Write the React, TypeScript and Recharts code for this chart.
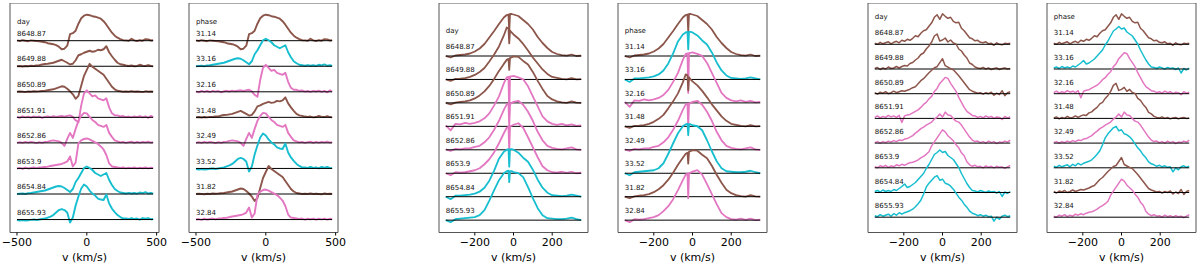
import React from "react";
import { LineChart, Line, XAxis, YAxis, ReferenceArea, ReferenceDot } from "recharts";

const FONT = "DejaVu Sans";
const BROWN = "#8c564b";
const PINK = "#e377c2";
const CYAN = "#17becf";

// observation epochs and their phases (same order)
const days = ["8648.87", "8649.88", "8650.89", "8651.91", "8652.86", "8653.9", "8654.84", "8655.93"];
const phases = ["31.14", "31.48", "31.82", "32.16", "32.49", "32.84", "33.16", "33.52"];
const dayColors = [BROWN, BROWN, BROWN, PINK, PINK, PINK, CYAN, CYAN];
// phase panels are sorted by fractional phase
const phaseOrder = [0, 6, 3, 1, 4, 7, 2, 5];
const dayOrder = [0, 1, 2, 3, 4, 5, 6, 7];

// ---- line 1 (panels 1-2) ----
const velA = [-500, -480, -460, -440, -420, -400, -380, -360, -340, -320, -300, -280, -260, -240, -220, -200, -180, -160, -140, -120, -100, -80, -60, -40, -20, 0, 20, 40, 60, 80, 100, 120, 140, 160, 180, 200, 220, 240, 260, 280, 300, 320, 340, 360, 380, 400, 420, 440, 460, 475];
const a1 = [0.3, -0.3, 0.5, 0, -0.5, 0.3, 0, -0.3, -0.5, -1, -1.5, -2.5, -3, -3.5, -4.5, -6, -8.5, -8, -5, 6.5, 7.5, 10, 17, 22.5, 25, 26, 25.5, 24.5, 24, 23, 22, 19.5, 16, 12, 8, 5, 3, 1.5, 0.5, 0.3, 0, 2, 0.3, -0.3, 0.5, 0, 1.5, 1.3, 0.2, 0.5];
const a2 = [0, 0.3, -0.2, 0.3, 0, 0.5, 0.3, 0.8, 1, 1.8, 2.3, 2.5, 3, 3.5, 4.5, 5.5, 6.5, 5, 3.5, 1.8, 2.5, 6, 11, 12, 13.5, 14.5, 15.5, 14.5, 15, 16.5, 16, 17, 20, 14, 10, 6.5, 3.5, 2, 1.5, 0.8, 0.3, 0.8, 0, 0.3, 1.5, 0.5, 0.3, 1.2, 0.3, 0];
const a3 = [0, 0.3, 0, -0.3, 0.3, 0, 0.5, 0.3, 0.5, 0.8, 1, 1.5, 2, 2.5, 3.5, 4.5, 5.5, 5, 3, 0.5, -2.5, -7, -4, 6, 16, 22, 28, 25, 23, 21, 19, 17, 13, 9, 5, 2.5, 1, 0.5, 0, 0.3, 0, 0.5, 0, 0.3, 0, -0.3, 0.5, 0, 0.3, 0];
const a4 = [0.5, -0.5, 1, 0, 0.8, -0.3, 1, 0.2, 0.8, -0.5, 0.5, 1, 0.3, 1.2, 0.5, 1, 1.5, 0.8, 1.5, 2, 0.5, -3, -5, 12, 24, 27, 24, 21, 22, 19, 18, 17, 19, 10, 4, 2, 2, 1, 1.3, 0.2, 0.8, 0, 1, 0.3, 1.2, 0, 1, -0.5, 1.5, 0];
const a5 = [0, 0.8, 0, 1, 0.3, 1, 0.5, -0.3, 0.8, 0, 1, 1.3, 2, 2.5, 2, 1.5, 0, -3, 4, 10, 5, 14, 22, 27, 30, 29.5, 26, 23, 21, 18, 17, 16, 18, 10, 6, 2.5, 1.5, 0.5, 1, 0, 0.8, 1.2, 0, 1, 0.3, 1, 0.5, 1.3, 0.3, 0.8];
const a6 = [0, 0.5, -0.3, 0.8, 0, 0.5, 1, 0.3, 1, 1.2, 1.5, 1.8, 2.5, 3, 3.5, 4, 4.5, 5.5, 7, 12, 2, 6, 25, 28, 29.5, 30, 29, 27.5, 26, 24.5, 22, 19, 13.5, 5, 2, 1.5, 1, 0.5, 1, 0, 0.8, 0.3, 1, 0, 0.8, 0.2, 1, 0, 0.8, 0.3];
const a7 = [0, 0.3, 0.5, 0, 0.8, 1, 1.5, 2, 2.5, 3, 3.5, 4.5, 5.5, 6.5, 7.5, 8, 7.5, 6, 4, 2, 5, 12, 16, 21, 26, 27.5, 26, 24, 21, 19.5, 18, 19.5, 21, 14, 9, 5, 3, 1.5, 1, 0.5, 1.2, 0.5, 1, 0.3, 1.5, 0.8, 1.8, 0.5, 1, 0.3];
const a8 = [-0.5, -1, -0.5, -1, -0.8, -0.3, 0, -0.5, 0, 0.5, 1, 2, 3, 4.5, 7, 9.5, 10.5, 9.5, 7, -3, 2, 14, 23, 31, 35, 33, 29, 26, 24, 21, 20, 19.5, 25, 16, 11, 7.5, 4.5, 2.5, 1, 1, 0.5, 1.5, 0.5, 1, 0, 1.5, 0.8, 1.5, 0.3, 0.5];

// ---- line 2 (panels 3-4) ----
const velB = [-350, -325, -300, -275, -250, -225, -200, -175, -150, -125, -100, -75, -50, -35, -26, -22, -18, -10, 0, 25, 50, 75, 100, 125, 150, 175, 200, 225, 250, 275, 300, 325, 350];
const b1 = [0, -1.5, 0.5, 1, 1.5, 2.5, 4.5, 7.5, 12, 18.5, 25, 32, 38.5, 41, 41.5, 24, 42, 42, 41.5, 40, 36, 32, 26.5, 19, 13, 8, 4, 2, 0.8, 0.3, 1.5, 0, 0.3];
const b2 = [0, -1.5, 0.5, 0.8, 1.3, 2.5, 4.5, 7.5, 11.5, 18, 25, 33, 44, 52, 51, 36, 49, 47, 45, 41, 35.5, 29, 22, 16, 10, 5.5, 2.5, 1.5, 0.5, 0, 1.3, 0, 0.3];
const b3 = [0, -1.5, 0.3, 1, 1.5, 2.5, 4.5, 7.5, 11.5, 17, 24, 32, 39, 43, 44, 33, 45, 45.5, 46.5, 46, 42, 38.5, 31, 22, 14, 7, 3.5, 1.5, 0.5, 0, 1.5, 0.3, 0];
const b4 = [1, -4, 2.5, 2, 3.5, 2.5, 3.5, 5, 8, 13, 21, 30, 43, 49, 49.5, 10, 50, 50, 50.5, 49, 47, 40, 30, 20, 10, 5, 2.5, 1.5, 2.5, 1, 2, 0.5, 1];
const b5 = [0.5, -1, 1, 0.5, 1.5, 1.5, 3, 4, 7.5, 12.5, 20, 29, 40, 45.5, 46, 22, 46.5, 46.5, 48, 49, 45, 38, 29, 18, 9.5, 4, 2, 1, 0.5, 1.5, 2.5, 0.5, 0];
const b6 = [0, -2, 1, 0.5, 1, 2, 3, 5, 9, 14, 21, 30, 40, 45.5, 46.5, 22, 47, 47.5, 48.5, 50, 45.5, 36, 26, 16, 7, 3, 1, 0.5, 1.5, 0.3, 1.5, 0, 0.5];
const b7 = [0, -2.5, 1, 1, 1.5, 2, 3, 5, 9, 16, 26, 38, 45, 47, 47.5, 30, 47.5, 47.5, 47, 44, 39, 35, 27, 17, 9, 4, 1.5, 1, 0.5, 1, 2, 1, 0];
const b8 = [0, -2, 1, 1.5, 2, 2.5, 3, 5, 10, 19.5, 30, 40, 47, 49, 49.5, 38, 49, 49, 48, 47, 43, 33, 22, 12, 5, 2, 1.5, 1, 1, 1.5, 2.5, 1, 0];

// ---- line 3 (panels 5-6) ----
const velC = [-350, -336, -322, -308, -294, -280, -266, -252, -238, -224, -210, -196, -182, -168, -154, -140, -126, -112, -98, -84, -70, -56, -42, -28, -14, 0, 14, 28, 42, 56, 70, 84, 98, 112, 126, 140, 154, 168, 182, 196, 210, 224, 238, 252, 266, 280, 294, 308, 322, 336, 350];
const c1 = [1, 0, 2, 0.5, 1.5, 2.5, 0.5, 2, 3, 1.5, 4, 3, 5, 4, 6, 8.5, 7.5, 11, 13.5, 14.5, 18, 21.5, 27, 29.5, 25, 30.5, 28, 26, 27, 23, 21.5, 22, 16, 13.5, 10, 6.5, 5.5, 3.5, 4, 2, 1.5, 2.5, 0.5, 1, -1, 1.5, 0, -0.5, 1, 0.5, 1];
const c2 = [0.5, 1.5, -0.5, 1, 0, 2, 0.5, 1, 2.5, 1, 2.5, 3.5, 3, 5.5, 6.5, 9, 11, 14.5, 16, 20, 23, 27, 33, 35, 28, 29, 31, 27, 29, 26, 25, 20, 18, 14, 11, 6, 4.5, 2, 1, 0.5, 1.5, 0, 1, -0.5, 0.5, 1, -0.5, 0.5, 1, 0, 0.5];
const c3 = [1, -0.5, 1.5, 0.5, 2, 0, 1, 2.5, 1, 2, 3, 2.5, 3.5, 4.5, 6, 7, 10, 13, 15, 18, 21, 23.5, 26, 27, 31, 35, 28, 26.5, 25, 24, 21, 18, 14.5, 11, 7.5, 4, 2.5, 1.5, 0.5, 1, -0.5, 1, 0, 1.5, -1.5, 0.5, -1, 3, -2, 1, 2];
const c4 = [1, 2.5, 0.5, 2, 1, 3, 1.5, 2.5, 1, 3, -4, 2.5, 3.5, 4, 5.5, 7, 8.5, 11, 14, 16, 19.5, 22, 27, 30, 35, 38, 41, 40, 35, 31, 27, 21, 16, 11, 7, 5, 3, 2.5, 1, 2, 0.5, 2.5, 1, 2, 0, 1.5, 1, -1, 2, 0.5, 1.5];
const c5 = [0.5, 1.5, 0, 1.5, 0.5, 2, 1, 2.5, 1.5, 3, 2.5, 4, 4.5, 6, 7.5, 10, 12, 14.5, 16, 18, 19.5, 21, 24, 26, 29, 26, 31, 28, 27.5, 24.5, 22, 21, 18, 14, 10, 6, 3, 1.5, 2, 0.5, 1.5, 0, 2, 0.5, 1.5, -0.5, 1, 0.5, 2, 1, 3];
const c6 = [1, 0, 2, 1, 2.5, 0.5, 2, 1, 3, 2, 3.5, 2.5, 4, 5, 5.5, 6.5, 8, 10, 11.5, 13.5, 16, 22, 26, 30, 34, 38, 36, 32, 29.5, 27, 23, 20, 15, 12, 6, 3, 1.5, 2.5, 1, 1.5, 0, 2, 0.5, 1.5, 0, 1.5, 0.5, 1, -0.5, 1, 2.5];
const c7 = [1, 2, 0.5, 2.5, 1, 2, 1, 3, 2, 4, 6, 8.5, 5, 6, 8, 10, 13, 16, 19, 24, 28, 33, 38, 40, 42.5, 40, 41, 37, 35, 33, 29, 25, 19, 14, 9, 5, 2, 1.5, 0.5, 2, 1, 0, 1.5, 0.5, 1, -0.5, 1, -4, 0.5, -1, 1];
const c8 = [1.5, 0.5, 2.5, 1, 2, 3, 1, 3.5, 2, 4.5, 3, 4.5, 5.5, 6.5, 8, 10.5, 13.5, 17, 23, 30, 34, 37, 40, 41.5, 37, 38, 34, 33, 31, 28, 24, 20, 17, 13, 10, 6, 4, 3, 1.5, 2.5, 1, 2, 0.5, 1, -4, 0, -2, 1, 2, 0.5, 1.5];

const PLOT_W = 149;
const PLOT_H = 229.5;
const AXIS_H = 33.5;
const M = 22;

type Group = {
  vel: number[];
  profiles: number[][];
  xDomain: [number, number];
  ticks: number[];
  step: number;
  bottom: number;
  labelGap: number;
  headGap: number;
  lw: number;
};

const groupA: Group = { vel: velA, profiles: [a1, a2, a3, a4, a5, a6, a7, a8], xDomain: [-550, 517], ticks: [-500, 0, 500], step: 25.55, bottom: 12.95, labelGap: 4.8, headGap: 16.3, lw: 1.9 };
const groupB: Group = { vel: velB, profiles: [b1, b2, b3, b4, b5, b6, b7, b8], xDomain: [-385, 385], ticks: [-200, 0, 200], step: 23.45, bottom: 12.35, labelGap: 7, headGap: 23.2, lw: 1.8 };
const groupC: Group = { vel: velC, profiles: [c1, c2, c3, c4, c5, c6, c7, c8], xDomain: [-385, 385], ticks: [-200, 0, 200], step: 24.7, bottom: 15.3, labelGap: 9, headGap: 25.5, lw: 1.5 };

const fmt = (t: number) => String(t).replace("-", "\u2212");

function Panel({ left, group, order, labels, head }: { left: number; group: Group; order: number[]; labels: string[]; head: string }) {
  const yMin = -group.bottom;
  const yMax = yMin + PLOT_H;
  const v0 = group.vel[0];
  const v1 = group.vel[group.vel.length - 1];
  const textShape = (txt: string) => (p: any) => (
    <text x={p.cx} y={p.cy} fontSize={7} fontFamily={FONT} fill="#111">{txt}</text>
  );
  const items: React.ReactNode[] = [];
  order.forEach((d, i) => {
    const base = (7 - i) * group.step;
    const pts = group.vel.map((v, k) => ({ v, y: base + group.profiles[d][k] }));
    items.push(
      <Line key={"p" + i} data={pts} dataKey="y" stroke={dayColors[d]} strokeWidth={group.lw} dot={false} isAnimationActive={false} strokeLinejoin="round" />
    );
    items.push(
      <Line key={"b" + i} data={[{ v: v0, y: base }, { v: v1, y: base }]} dataKey="y" stroke="#000" strokeWidth={1} dot={false} isAnimationActive={false} />
    );
    items.push(
      <ReferenceDot key={"l" + i} x={v0} y={base + group.labelGap} r={0} ifOverflow="visible" shape={textShape(labels[d])} />
    );
  });
  return (
    <div style={{ position: "absolute", left: left - M, top: 3 }}>
      <LineChart width={PLOT_W + 2 * M} height={PLOT_H + AXIS_H} margin={{ top: 0, right: M, bottom: 0, left: M }}>
        <XAxis
          dataKey="v"
          type="number"
          domain={group.xDomain}
          allowDataOverflow
          ticks={group.ticks}
          interval={0}
          tickFormatter={fmt}
          tick={{ fontSize: 11, fill: "#000", fontFamily: FONT }}
          tickSize={3}
          tickMargin={3}
          tickLine={{ stroke: "#000" }}
          axisLine={false}
          height={AXIS_H}
          label={{ value: "v (km/s)", position: "insideBottom", offset: 5, fontSize: 11, fill: "#000", fontFamily: FONT }}
        />
        <YAxis hide type="number" domain={[yMin, yMax]} allowDataOverflow />
        {items}
        <ReferenceDot x={v0} y={7 * group.step + group.headGap} r={0} ifOverflow="visible" shape={textShape(head)} />
        <ReferenceArea x1={group.xDomain[0]} x2={group.xDomain[1]} y1={yMin} y2={yMax} fill="none" stroke="#555" strokeWidth={1} ifOverflow="visible" />
      </LineChart>
    </div>
  );
}

export default function App() {
  return (
    <div style={{ position: "absolute", left: 0, top: 0, width: 1200, height: 266, overflow: "hidden", background: "#fff", fontFamily: FONT }}>
      <Panel left={10.3} group={groupA} order={dayOrder} labels={days} head="day" />
      <Panel left={189} group={groupA} order={phaseOrder} labels={phases} head="phase" />
      <Panel left={439.3} group={groupB} order={dayOrder} labels={days} head="day" />
      <Panel left={618.3} group={groupB} order={phaseOrder} labels={phases} head="phase" />
      <Panel left={868.3} group={groupC} order={dayOrder} labels={days} head="day" />
      <Panel left={1047} group={groupC} order={phaseOrder} labels={phases} head="phase" />
    </div>
  );
}
